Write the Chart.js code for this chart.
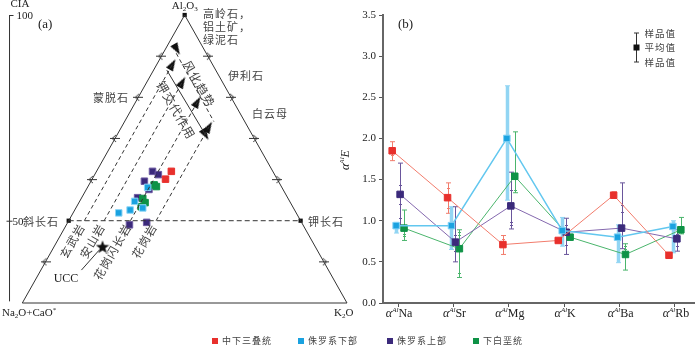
<!DOCTYPE html>
<html>
<head>
<meta charset="utf-8">
<script src="https://cdn.jsdelivr.net/npm/chart.js@4"></script>
<style>
  body { margin: 0; background: #fff; width: 700px; height: 346px; position: relative; overflow: hidden; }
  #ternary { position: absolute; left: 0; top: 0; }
  #ratio { position: absolute; left: 340px; top: 0; }
  .item { position: absolute; top: 335px; font: 9px "Noto Sans CJK SC", sans-serif; color: #444; letter-spacing: 1px; white-space: nowrap; line-height: 12px; }
  .item i { position: absolute; left: -10px; top: 3px; width: 6px; height: 6px; }
</style>
</head>
<body>
<canvas id="ternary" width="360" height="346"></canvas>
<canvas id="ratio" width="360" height="346"></canvas>
<script>
// ---- (a) A-CN-K diagram: x = position along the CN-K base (0-100), y = CIA ----
const triassicCIA = [{x: 45.9, y: 62.0}, {x: 44.1, y: 60.1}];
const jurLowerCIA = [{x: 38.6, y: 58.1}, {x: 34.6, y: 54.7}, {x: 37.1, y: 53.1}, {x: 33.2, y: 52.6}, {x: 29.7, y: 51.9}];
const jurUpperCIA = [{x: 40.1, y: 62.0}, {x: 41.9, y: 61.2}, {x: 37.6, y: 59.6}, {x: 39.0, y: 57.6}, {x: 35.5, y: 55.6}, {x: 33.0, y: 49.0}, {x: 38.3, y: 49.6}];
const cretCIA = [{x: 40.6, y: 58.7}, {x: 41.3, y: 58.3}, {x: 37.1, y: 55.4}, {x: 37.8, y: 54.4}, {x: 36.6, y: 53.4}];
const uccCIA = [{x: 24.7, y: 43.7}];
const rockNames = ['玄武岩', '安山岩', '花岗闪长岩', '花岗岩'];
const rockStartX = [19.1, 25.2, 33.3, 41.2];   // where each trend leaves the feldspar line (CIA 50)
const rockTopCIA = [88.0, 83.7, 78.9, 72.8];
const edgeTickCIA = [40, 60, 70, 80, 90];

// ---- (b) alpha-Al E by element ----
const categories = ['Na', 'Sr', 'Mg', 'K', 'Ba', 'Rb'];
const seriesNames = ['中下三叠统', '侏罗系下部', '侏罗系上部', '下白垩统'];
const triassicMean = [1.85, 1.28, 0.71, 0.76, 1.31, 0.58];
const triassicLow  = [1.73, 1.09, 0.59, 0.76, 1.27, 0.58];
const triassicHigh = [1.96, 1.46, 0.82, 0.76, 1.35, 0.58];
const jurLowerMean = [0.94, 0.94, 2.00, 0.88, 0.80, 0.93];
const jurLowerLow  = [0.85, 0.65, 1.25, 0.69, 0.49, 0.61];
const jurLowerHigh = [0.98, 1.17, 2.64, 1.04, 0.95, 1.00];
const jurUpperMean = [1.32, 0.74, 1.18, 0.86, 0.91, 0.78];
const jurUpperLow  = [0.94, 0.50, 0.90, 0.59, 0.66, 0.63];
const jurUpperHigh = [1.70, 1.17, 1.59, 1.03, 1.46, 0.89];
const cretMean = [0.91, 0.66, 1.54, 0.80, 0.59, 0.89];
const cretLow  = [0.76, 0.31, 1.34, 0.77, 0.40, 0.84];
const cretHigh = [1.13, 0.89, 2.08, 0.83, 0.72, 1.04];
// single sample values marked inside the ranges
const triassicSamples = [[1.80], [1.40, 1.16], [0.78], [], [], []];
const jurLowerSamples = [[0.90], [1.05, 0.70], [2.47, 2.43, 1.61], [0.95], [0.70], [0.96, 0.75]];
const jurUpperSamples = [[1.44, 1.20, 1.03], [0.83, 0.63], [1.37, 0.99, 0.95], [0.95, 0.70], [1.19, 1.11], [0.84, 0.69]];
const cretSamples = [[0.84, 0.81], [0.86, 0.83, 0.36], [1.37], [], [0.69, 0.66], [0.92]];

const colors = [
  {fill: '#e8302c', line: '#f27c6c', bar: '#f27c6c', barW: 1},
  {fill: '#1aa2e0', line: '#62c7ef', bar: '#92d5f3', barW: 3.5},
  {fill: '#3b2a7b', line: '#8468ae', bar: '#6a569c', barW: 1},
  {fill: '#0e9246', line: '#4ab56c', bar: '#4ab56c', barW: 1}
];
const SERIF = '"Liberation Serif", "Times New Roman", serif';
const CJK = '"Noto Sans CJK SC", sans-serif';

// legend under both panels
const legendX = [212, 298, 387, 473];
seriesNames.forEach((n, i) => {
  const d = document.createElement('div');
  d.className = 'item';
  d.style.left = (legendX[i] + 10) + 'px';
  d.innerHTML = `<i style="background:${colors[i].fill}"></i>${n}`;
  document.body.appendChild(d);
});

function rich(ctx, parts, x, y, align) {
  let w = 0;
  parts.forEach(p => { ctx.font = p.f; w += ctx.measureText(p.t).width; });
  let cx = align === 'center' ? x - w / 2 : align === 'right' ? x - w : x;
  ctx.textAlign = 'left';
  parts.forEach(p => { ctx.font = p.f; ctx.fillText(p.t, cx, y + (p.dy || 0)); cx += ctx.measureText(p.t).width; });
}

function starImage(size) {
  const c = document.createElement('canvas'); c.width = c.height = size;
  const g = c.getContext('2d'); g.fillStyle = '#111'; g.beginPath();
  for (let i = 0; i < 10; i++) {
    const r = i % 2 ? size * 0.21 : size / 2;
    const a = -Math.PI / 2 + i * Math.PI / 5;
    g.lineTo(size / 2 + r * Math.cos(a), size / 2 + r * Math.sin(a) + size * 0.05);
  }
  g.closePath(); g.fill();
  return c;
}
function chevron(dir) {
  const c = document.createElement('canvas'); c.width = 10; c.height = 9;
  const g = c.getContext('2d'); g.strokeStyle = '#333'; g.lineWidth = 1;
  g.beginPath();
  g.moveTo(0, 4.5); g.lineTo(10, 4.5);
  const tip = dir < 0 ? 2 : 8, back = dir < 0 ? 6 : 4;
  g.moveTo(back, 1); g.lineTo(tip, 4.5); g.lineTo(back, 8);
  g.stroke();
  return c;
}
function arrowHead() {
  const c = document.createElement('canvas'); c.width = 8; c.height = 12;
  const g = c.getContext('2d'); g.fillStyle = '#111';
  g.beginPath(); g.moveTo(4, 0); g.lineTo(8, 12); g.lineTo(0, 12); g.closePath(); g.fill();
  return c;
}

// ---------- panel (a) ----------
const base = 30;
const leftEdgeX = cia => (cia - base) / (100 - base) * 50;
const seg = (pts, extra) => Object.assign({data: pts, showLine: true, pointRadius: 0, borderColor: '#333', borderWidth: 1, clip: false}, extra || {});
const dashed = {borderDash: [4, 3]};
const trendLines = rockStartX.map((x0, i) => seg([{x: x0, y: 50}, {x: x0 + (rockTopCIA[i] - 50) / 70 * 50, y: rockTopCIA[i]}], dashed));
const arrowPts = rockStartX.map((x0, i) => ({x: x0 + (rockTopCIA[i] - 50) / 70 * 50, y: rockTopCIA[i]}));
arrowPts.push({x: 56.4, y: 70.9}, {x: 47.6, y: 91.6});
const pts = (data, fill, border) => ({data, pointStyle: 'rect', pointRadius: 4.6, pointBackgroundColor: fill, pointBorderColor: border || fill, pointBorderWidth: 1, showLine: false, clip: false});

const ternaryText = {
  id: 'ternaryText',
  afterDraw(chart) {
    const {ctx, scales: {x, y}} = chart;
    const P = (a, b) => [x.getPixelForValue(a), y.getPixelForValue(b)];
    ctx.save();
    ctx.textBaseline = 'middle';
    ctx.fillStyle = '#222';
    // CIA axis ticks and labels
    const ax = x.getPixelForValue(-3.94);
    ctx.strokeStyle = '#333'; ctx.lineWidth = 1;
    ctx.beginPath();
    ctx.moveTo(ax, y.getPixelForValue(100) + 0.5); ctx.lineTo(ax + 4, y.getPixelForValue(100) + 0.5);
    ctx.moveTo(ax - 3, y.getPixelForValue(50) + 0.5); ctx.lineTo(ax + 3, y.getPixelForValue(50) + 0.5);
    ctx.stroke();
    ctx.font = '11px ' + SERIF;
    ctx.textAlign = 'left';
    ctx.fillText('CIA', ax + 1, 4);
    ctx.fillText('100', ax + 7, y.getPixelForValue(100) + 1);
    ctx.fillText('50', ax + 3, y.getPixelForValue(50) + 1);
    ctx.font = '13px ' + SERIF;
    ctx.fillText('(a)', 38, 25);
    // vertex labels
    const s10 = '11px ' + SERIF, s7 = '7px ' + SERIF;
    rich(ctx, [{t: 'Al', f: s10}, {t: '2', f: s7, dy: 3}, {t: 'O', f: s10}, {t: '3', f: s7, dy: 3}], P(50, 100)[0], 6, 'center');
    rich(ctx, [{t: 'Na', f: s10}, {t: '2', f: s7, dy: 3}, {t: 'O+CaO', f: s10}, {t: '*', f: s7, dy: -3}], 2, 313, 'left');
    rich(ctx, [{t: 'K', f: s10}, {t: '2', f: s7, dy: 3}, {t: 'O', f: s10}], 334, 313, 'left');
    // mineral labels
    ctx.fillStyle = '#444';
    ctx.font = '11px ' + CJK;
    ctx.letterSpacing = '1px';
    ctx.textAlign = 'left';
    ctx.fillText('高岭石，', 203, 14);
    ctx.fillText('铝土矿，', 203, 27);
    ctx.fillText('绿泥石', 203, 40);
    ctx.textAlign = 'center';
    ctx.fillText('伊利石', 246, 76);
    ctx.fillText('白云母', 270, 114);
    ctx.fillText('蒙脱石', 111, 98);
    ctx.textAlign = 'left';
    ctx.fillText('斜长石', 23, y.getPixelForValue(50) + 1);
    ctx.fillText('钾长石', 308, y.getPixelForValue(50) + 1);
    // rock names along the trend lines
    ctx.font = '11.5px ' + CJK;
    rockNames.forEach((n, i) => {
      const [px, py] = P(rockStartX[i], 50);
      ctx.save();
      ctx.translate(px - 2.5, py + 4);
      ctx.rotate(-Math.PI / 3);
      ctx.textAlign = 'right';
      ctx.fillText(n, 0, 0);
      ctx.restore();
    });
    // trend captions
    ctx.font = '12px ' + CJK;
    ctx.textAlign = 'center';
    [['风化趋势', 199, 84], ['钾交代作用', 176, 110]].forEach(([t, cx, cy]) => {
      ctx.save(); ctx.translate(cx, cy); ctx.rotate(Math.PI / 3); ctx.fillText(t, 0, 0); ctx.restore();
    });
    ctx.letterSpacing = '0px';
    ctx.fillStyle = '#222';
    ctx.font = '12px ' + SERIF;
    ctx.fillText('UCC', 66, 279);
    ctx.restore();
  }
};

new Chart(document.getElementById('ternary'), {
  type: 'scatter',
  data: {
    datasets: [
      seg([{x: 0, y: base}, {x: 50, y: 100}, {x: 100, y: base}, {x: 0, y: base}]),
      seg([{x: -3.94, y: base + 0.4}, {x: -3.94, y: 100}]),
      seg([{x: leftEdgeX(50), y: 50}, {x: 100 - leftEdgeX(50), y: 50}], {borderDash: [5, 3]}),
      ...trendLines,
      seg([{x: 47.4, y: 90.7}, {x: 59.0, y: 74.1}], dashed),
      seg([{x: 44.5, y: 86.6}, {x: 56.4, y: 70.9}]),
      seg([{x: 23.6, y: 42.8}, {x: 18.2, y: 38.0}]),
      {data: arrowPts, pointStyle: arrowHead(), pointRotation: [30, 30, 30, 30, 150, 150], clip: false},
      {data: edgeTickCIA.map(c => ({x: leftEdgeX(c), y: c})), pointStyle: chevron(-1), clip: false},
      {data: edgeTickCIA.map(c => ({x: 100 - leftEdgeX(c), y: c})), pointStyle: chevron(1), clip: false},
      {data: [{x: 50, y: 100}, {x: leftEdgeX(50), y: 50}, {x: 100 - leftEdgeX(50), y: 50}], pointStyle: 'rect', pointRadius: 3, pointBackgroundColor: '#111', pointBorderWidth: 0, clip: false},
      pts(triassicCIA, colors[0].fill),
      pts(jurLowerCIA, colors[1].fill, '#8fd6f6'),
      pts(cretCIA, colors[3].fill),
      pts(jurUpperCIA, colors[2].fill, '#6d5aa3'),
      {data: uccCIA, pointStyle: starImage(14), clip: false}
    ]
  },
  options: {
    responsive: false,
    animation: false,
    layout: {padding: {left: 0, right: 13, top: 15, bottom: 43}},
    plugins: {legend: {display: false}, tooltip: {enabled: false}},
    scales: {
      x: {type: 'linear', display: false, min: -5.15, max: 100},
      y: {type: 'linear', display: false, min: base, max: 100}
    }
  },
  plugins: [ternaryText]
});

// ---------- panel (b) ----------
const offsets = [-0.107, -0.036, 0.036, 0.107];
const means = [triassicMean, jurLowerMean, jurUpperMean, cretMean];
const lows = [triassicLow, jurLowerLow, jurUpperLow, cretLow];
const highs = [triassicHigh, jurLowerHigh, jurUpperHigh, cretHigh];
const samples = [triassicSamples, jurLowerSamples, jurUpperSamples, cretSamples];

const errorBars = {
  id: 'errorBars',
  beforeDatasetsDraw(chart) {
    const {ctx, scales: {x, y}} = chart;
    ctx.save();
    means.forEach((m, s) => {
      ctx.strokeStyle = colors[s].bar;
      m.forEach((v, i) => {
        const lo = lows[s][i], hi = highs[s][i];
        if (lo === hi) return;
        const px = Math.round(x.getPixelForValue(i + offsets[s])) + 0.5;
        const y0 = y.getPixelForValue(lo), y1 = y.getPixelForValue(hi);
        ctx.lineWidth = colors[s].barW;
        ctx.beginPath(); ctx.moveTo(px, y0); ctx.lineTo(px, y1); ctx.stroke();
        ctx.lineWidth = 1;
        ctx.beginPath();
        ctx.moveTo(px - 2.5, y0); ctx.lineTo(px + 2.5, y0);
        ctx.moveTo(px - 2.5, y1); ctx.lineTo(px + 2.5, y1);
        samples[s][i].forEach(sv => {
          const sy = Math.round(y.getPixelForValue(sv)) + 0.5;
          ctx.moveTo(px - 1.5, sy); ctx.lineTo(px + 1.5, sy);
        });
        ctx.stroke();
      });
    });
    ctx.restore();
  }
};

const ratioText = {
  id: 'ratioText',
  afterDraw(chart) {
    const {ctx, scales: {x}} = chart;
    ctx.save();
    ctx.fillStyle = '#222';
    ctx.textBaseline = 'middle';
    const big = 'italic 12px ' + SERIF, sup = 'italic 7px ' + SERIF, rom = '12px ' + SERIF;
    categories.forEach((c, i) => {
      rich(ctx, [{t: 'α', f: big}, {t: 'Al', f: sup, dy: -4}, {t: c, f: rom}], x.getPixelForValue(i) + 1, 314, 'center');
    });
    ctx.save();
    ctx.translate(6, 160);
    ctx.rotate(-Math.PI / 2);
    rich(ctx, [{t: 'α', f: big}, {t: 'Al', f: sup, dy: -4}, {t: 'E', f: big}], 0, 0, 'center');
    ctx.restore();
    ctx.font = '13px ' + SERIF;
    ctx.textAlign = 'left';
    ctx.fillText('(b)', 58, 25);
    // key for the error bars
    const kx = 296.5;
    ctx.strokeStyle = '#333'; ctx.lineWidth = 1;
    ctx.beginPath();
    ctx.moveTo(kx, 33); ctx.lineTo(kx, 62);
    ctx.moveTo(kx - 2.5, 33); ctx.lineTo(kx + 2.5, 33);
    ctx.moveTo(kx - 2.5, 62); ctx.lineTo(kx + 2.5, 62);
    ctx.stroke();
    ctx.fillStyle = '#111';
    ctx.fillRect(kx - 3, 44.5, 6, 6);
    ctx.fillStyle = '#444';
    ctx.font = '9.5px ' + CJK;
    ctx.letterSpacing = '1px';
    ctx.fillText('样品值', kx + 8, 33);
    ctx.fillText('平均值', kx + 8, 47.5);
    ctx.fillText('样品值', kx + 8, 62);
    ctx.restore();
  }
};

new Chart(document.getElementById('ratio'), {
  type: 'scatter',
  data: {
    datasets: means.map((m, s) => ({
      label: seriesNames[s],
      data: m.map((v, i) => ({x: i + offsets[s], y: v})),
      showLine: true,
      borderColor: colors[s].line,
      borderWidth: s === 1 ? 1.5 : 1,
      pointStyle: 'rect',
      pointRadius: 4.6,
      pointBackgroundColor: colors[s].fill,
      pointBorderColor: s === 1 ? '#7fd0f5' : colors[s].fill,
      pointBorderWidth: 1,
      clip: false
    }))
  },
  options: {
    responsive: false,
    animation: false,
    layout: {padding: {left: 0, right: 2, top: 15, bottom: 0}},
    plugins: {legend: {display: false}, tooltip: {enabled: false}},
    scales: {
      x: {
        type: 'linear', min: -0.273, max: 5.352,
        afterBuildTicks: s => { s.ticks = categories.map((c, i) => ({value: i})); },
        afterFit: s => { s.height = 43; },
        ticks: {color: 'rgba(0,0,0,0)'},
        grid: {drawOnChartArea: false, drawTicks: true, tickLength: 4, color: '#555'},
        border: {color: '#666', width: 2}
      },
      y: {
        type: 'linear', min: 0, max: 3.5,
        afterFit: s => { s.width = 43; },
        ticks: {stepSize: 0.5, padding: 3, color: '#222', font: {family: SERIF, size: 11}, callback: v => v.toFixed(1)},
        grid: {drawOnChartArea: false, drawTicks: true, tickLength: 4, color: '#555'},
        border: {color: '#666', width: 2}
      }
    }
  },
  plugins: [errorBars, ratioText]
});
</script>
</body>
</html>
